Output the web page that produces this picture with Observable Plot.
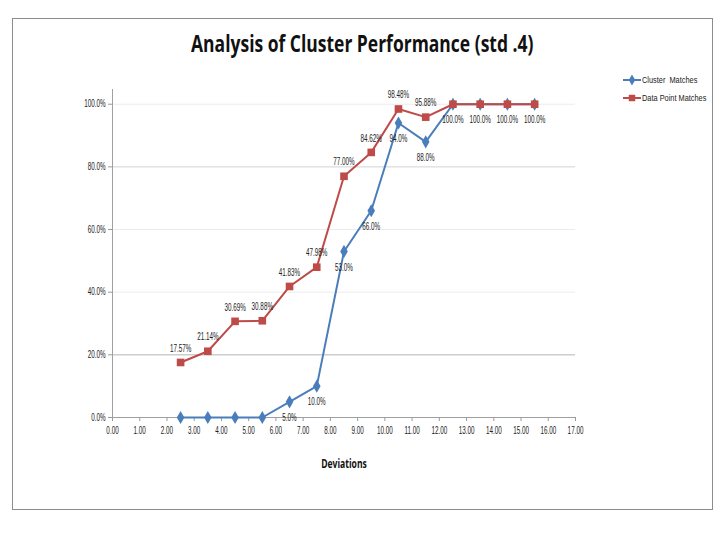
<!DOCTYPE html>
<html>
<head>
<meta charset="utf-8">
<script src="https://cdn.jsdelivr.net/npm/d3@7"></script>
<script src="https://cdn.jsdelivr.net/npm/@observablehq/plot@0.6"></script>
<style>
  body { margin: 0; background: #fff; }
  #wrap { position: relative; width: 720px; height: 540px; overflow: hidden; font-family: "Liberation Sans", Arial, sans-serif; }
  #frame { position: absolute; left: 12px; top: 18px; width: 701px; height: 492px; box-sizing: border-box; border: 1px solid #8c8c8c; }
  #title { position: absolute; left: 0; width: 724px; top: 27px; text-align: center; font-family: "Open Sans", sans-serif; font-weight: bold; font-size: 23px; color: #111; white-space: nowrap; }
  #title span { display: inline-block; transform: scaleX(0.76); transform-origin: center; }
  #chart { position: absolute; left: 0; top: 0; }
  .leg { position: absolute; left: 623px; font-size: 9px; color: #222; display: flex; align-items: center; white-space: pre; }
  .leg span { display: inline-block; transform: scaleX(0.82); transform-origin: left center; }
</style>
</head>
<body>
<div id="wrap">
  <div id="frame"></div>
  <div id="chart"></div>
  <div id="title"><span>Analysis of Cluster Performance (std .4)</span></div>
  <div id="legend"></div>
</div>
<script>
const deviations = [2.5, 3.5, 4.5, 5.5, 6.5, 7.5, 8.5, 9.5, 10.5, 11.5, 12.5, 13.5, 14.5, 15.5];
const clusterMatches = [0, 0, 0, 0, 5.0, 10.0, 53.0, 66.0, 94.0, 88.0, 100.0, 100.0, 100.0, 100.0];
const dataPointMatches = [17.57, 21.14, 30.69, 30.88, 41.83, 47.98, 77.00, 84.62, 98.48, 95.88, 100, 100, 100, 100];
const xTicks = [0, 1, 2, 3, 4, 5, 6, 7, 8, 9, 10, 11, 12, 13, 14, 15, 16, 17];
const yTicks = [0, 20, 40, 60, 80, 100];
const seriesNames = ["Cluster  Matches", "Data Point Matches"];
const colors = ["#4a7ebb", "#be4b48"];

const cluster = deviations.map((x, i) => ({x, v: clusterMatches[i] / 100}));
const points = deviations.map((x, i) => ({x, v: dataPointMatches[i] / 100}));

const gridColor = d => d === 0.2 ? "#b4b4b4" : d === 0.8 ? "#d2d2d2" : "#ececec";

const chart = Plot.plot({
  width: 720,
  height: 540,
  marginLeft: 112,
  marginRight: 145,
  marginTop: 89,
  marginBottom: 123,
  style: {fontFamily: "'Liberation Sans', Arial, sans-serif", fontSize: "10px", color: "#222", background: "transparent"},
  x: {domain: [0, 17]},
  y: {domain: [0, 1.047]},
  marks: [
    Plot.ruleY(yTicks.slice(1).map(d => d / 100), {stroke: gridColor, strokeWidth: 1}),
    Plot.axisY(yTicks.map(d => d / 100), {tickFormat: d => (d * 100).toFixed(1) + "%", tickSize: 4, tickPadding: 3, stroke: "#999", fontSize: 10, label: null}),
    Plot.axisX(xTicks, {tickFormat: d => d.toFixed(2), tickSize: 4, tickPadding: 5, stroke: "#999", fontSize: 10, label: null}),
    Plot.ruleX([0], {stroke: "#a0a0a0"}),
    Plot.ruleY([0], {stroke: "#a0a0a0"}),
    Plot.line(cluster, {x: "x", y: "v", stroke: colors[0], strokeWidth: 2}),
    Plot.line(points, {x: "x", y: "v", stroke: colors[1], strokeWidth: 2}),
    Plot.dot(cluster, {x: "x", y: "v", symbol: "diamond", r: 4, fill: colors[0], stroke: null}),
    Plot.dot(points, {x: "x", y: "v", symbol: "square", r: 4.3, fill: colors[1], stroke: null}),
    Plot.text(cluster.filter(d => d.v > 0), {x: "x", y: "v", text: d => (d.v * 100).toFixed(1) + "%", dy: 16, fontSize: 10, fill: "#222"}),
    Plot.text(points.filter(d => d.v < 1), {x: "x", y: "v", text: d => (d.v * 100).toFixed(2) + "%", dy: -14, fontSize: 10, fill: "#222"}),
    Plot.text(["Deviations"], {frameAnchor: "bottom", dy: 50, text: d => d, fontSize: 13, fontWeight: "bold", fill: "#111", fontFamily: "'Open Sans', sans-serif", className: "xlabel"})
  ]
});
document.getElementById("chart").appendChild(chart);

// condense the small texts horizontally, like the narrow face of the original
chart.querySelectorAll("text").forEach(t => {
  const isLabel = t.closest(".xlabel") !== null;
  const k = isLabel ? 0.66 : 0.63;
  const w = t.getComputedTextLength();
  if (w > 0) {
    t.setAttribute("textLength", (w * k).toFixed(2));
    t.setAttribute("lengthAdjust", "spacingAndGlyphs");
  }
});

const legend = document.getElementById("legend");
const symbols = [d3.symbolDiamond, d3.symbolSquare];
const sizes = [36, 42];
seriesNames.forEach((name, i) => {
  const row = document.createElement("div");
  row.className = "leg";
  row.style.top = (i === 0 ? 74 : 92) + "px";
  row.innerHTML = `<svg width="18" height="12" style="margin-right:1px"><line x1="0" x2="18" y1="6" y2="6" stroke="${colors[i]}" stroke-width="2"/><path transform="translate(9,6)" d="${d3.symbol(symbols[i], sizes[i])()}" fill="${colors[i]}"/></svg><span>${name}</span>`;
  legend.appendChild(row);
});
</script>
</body>
</html>
